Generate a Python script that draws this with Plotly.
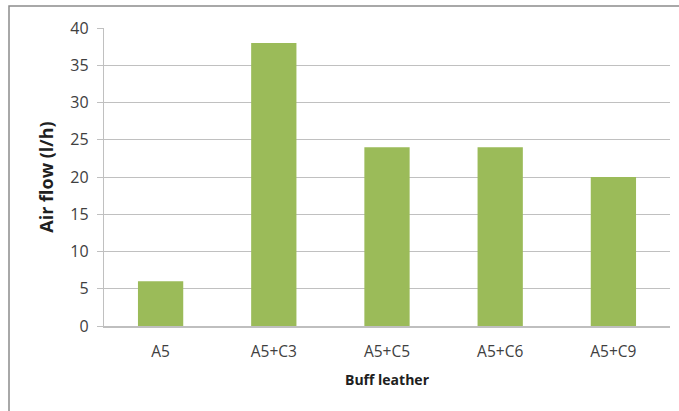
import plotly.graph_objects as go

categories = ["A5", "A5+C3", "A5+C5", "A5+C6", "A5+C9"]
air_flow = [6, 38, 24, 24, 20]
y_ticks = [0, 5, 10, 15, 20, 25, 30, 35, 40]

W, H = 679, 411
ML, MR, MT, MB = 104, 9, 28, 85
pw, ph = W - ML - MR, H - MT - MB

fig = go.Figure(go.Bar(
    x=categories, y=air_flow,
    marker=dict(color="#9BBB59", line=dict(width=0)),
))

# chart frame (only top and left edges fall inside the page)
fx0 = (9 - ML) / pw
fy1 = (H - MB - 6) / ph
fig.add_shape(type="rect", xref="paper", yref="paper",
              x0=fx0, x1=1.2, y0=-0.5, y1=fy1,
              line=dict(color="#8c8c8c", width=1.5), layer="below")

fig.update_layout(
    width=W, height=H,
    margin=dict(l=ML, r=MR, t=MT, b=MB),
    paper_bgcolor="white", plot_bgcolor="white",
    bargap=0.6, showlegend=False,
    font=dict(family="Open Sans", color="#404040", size=13),
)
fig.update_xaxes(
    showgrid=False, showline=True, linecolor="#bfbfbf", linewidth=1.5,
    ticks="", tickfont=dict(size=15.5), ticklabelstandoff=11,
    title=dict(text="<b>Buff leather</b>", font=dict(size=14, color="#202020"), standoff=14),
)
fig.update_yaxes(
    range=[0, 40], tickvals=y_ticks,
    showgrid=True, gridcolor="#c0c0c0", gridwidth=1.3,
    showline=True, linecolor="#c0c0c0", linewidth=1.3,
    ticks="outside", ticklen=6, tickcolor="#c0c0c0", tickwidth=1.3,
    zeroline=False, tickfont=dict(size=16), ticklabelstandoff=5,
    title=dict(text="<b>Air flow (l/h)</b>", font=dict(size=18, color="#202020"), standoff=12),
)

fig.write_html("out.html")
